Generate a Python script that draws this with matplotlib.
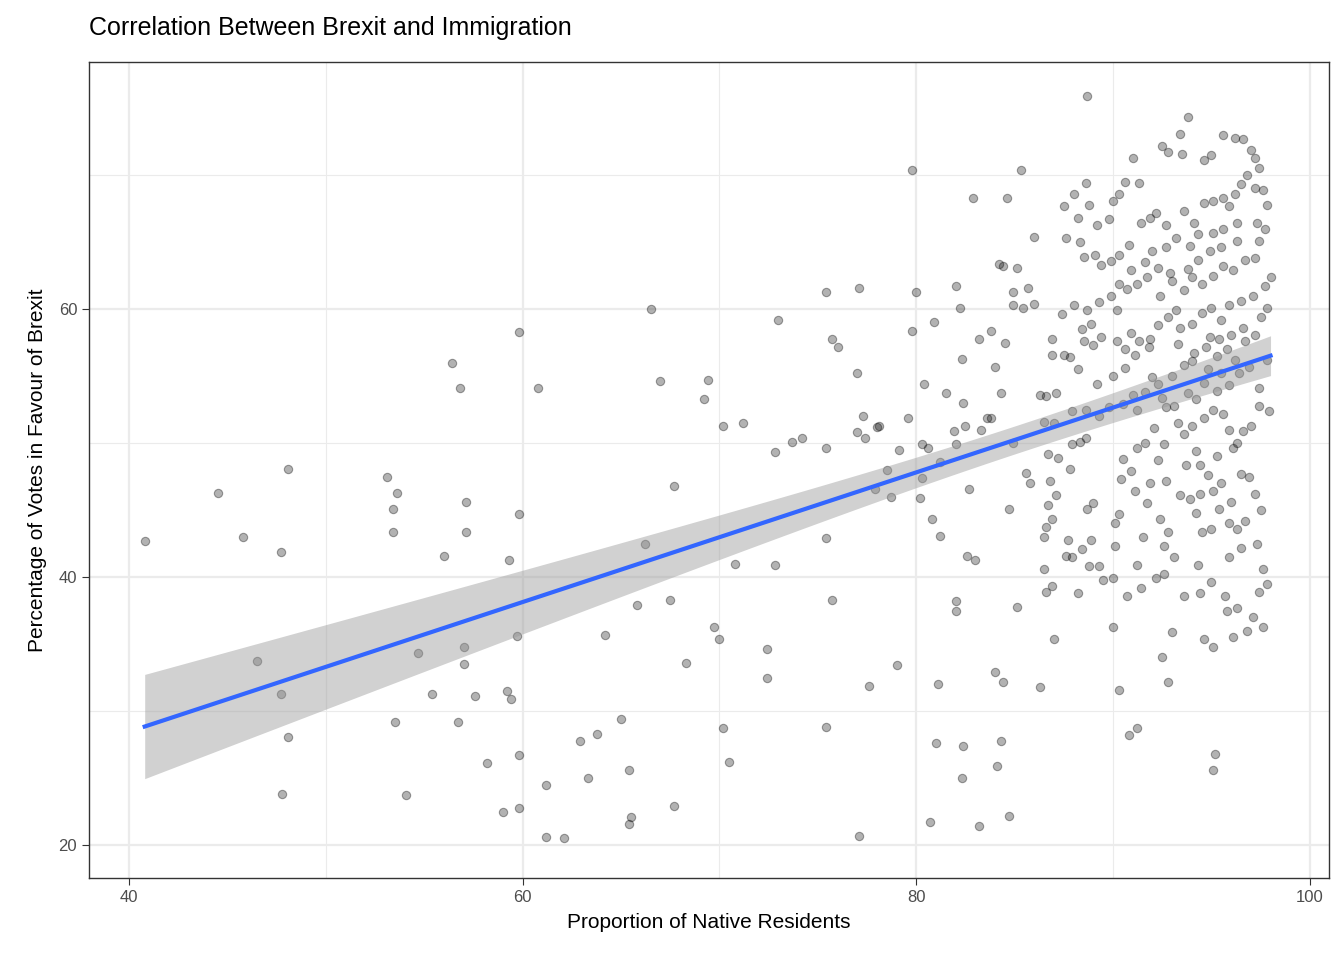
import numpy as np
import matplotlib.pyplot as plt

plt.rcParams['font.family'] = ['Liberation Sans', 'DejaVu Sans']

title = "Correlation Between Brexit and Immigration"
x_label = "Proportion of Native Residents"
y_label = "Percentage of Votes in Favour of Brexit"

# sparse part (native share below ~87%)
sparse = [
    (40.8, 42.7), (44.5, 46.3), (45.8, 43.0), (46.5, 33.7), (47.7, 41.9), (47.7, 31.3), (47.8, 23.8),
    (48.1, 48.1), (48.1, 28.1), (53.1, 47.5), (53.4, 45.1), (53.6, 46.3), (53.4, 43.4), (53.5, 29.2),
    (54.1, 23.7), (54.7, 34.3), (55.4, 31.3), (56.0, 41.6), (56.4, 56.0), (56.8, 54.1), (56.7, 29.2),
    (57.0, 34.8), (57.1, 45.6), (57.1, 43.4), (57.0, 33.5), (57.6, 31.1), (58.2, 26.1), (59.0, 22.5),
    (59.2, 31.5), (59.3, 41.3), (59.4, 30.9), (59.8, 58.3), (59.8, 44.7), (59.7, 35.6), (59.8, 26.7),
    (59.8, 22.8), (60.8, 54.1), (61.2, 24.5), (61.2, 20.6), (62.1, 20.5), (62.9, 27.8), (63.3, 25.0),
    (63.8, 28.3), (64.2, 35.7), (65.0, 29.4), (65.4, 25.6), (65.4, 21.6), (65.5, 22.1), (65.8, 37.9),
    (66.2, 42.5), (66.5, 60.0), (67.0, 54.6), (67.5, 38.3), (67.7, 46.8), (67.7, 22.9), (68.3, 33.6),
    (69.2, 53.3), (69.4, 54.7), (69.7, 36.3), (70.0, 35.4), (70.2, 28.7), (70.2, 51.3), (70.5, 26.2),
    (70.8, 41.0), (71.2, 51.5), (72.4, 34.6), (72.4, 32.5), (72.8, 49.3), (72.8, 40.9), (73.0, 59.2),
    (73.7, 50.1), (74.2, 50.4), (75.4, 42.9), (75.4, 61.3), (75.4, 28.8), (75.4, 49.6), (75.7, 57.8),
    (75.7, 38.3), (76.0, 57.2), (77.0, 50.8), (77.0, 55.2), (77.1, 61.6), (77.1, 20.7), (77.3, 52.0),
    (77.4, 50.4), (77.6, 31.9), (77.9, 46.6), (78.0, 51.2), (78.1, 51.3), (78.5, 48.0), (78.7, 46.0),
    (79.0, 33.4), (79.1, 49.5), (79.6, 51.9), (79.8, 70.4), (79.8, 58.4), (80.0, 61.3), (80.3, 49.9),
    (80.2, 45.9), (80.3, 47.4), (80.4, 54.4), (80.6, 49.6), (80.7, 21.7), (80.8, 44.3), (80.9, 59.0),
    (81.0, 27.6), (81.1, 32.0), (81.2, 43.1), (81.2, 48.6), (81.5, 53.7), (81.9, 50.9), (82.0, 49.9),
    (82.0, 38.2), (82.0, 37.5), (82.0, 61.7), (82.2, 60.1), (82.3, 56.3), (82.3, 25.0), (82.4, 27.4),
    (82.4, 53.0), (82.5, 51.3), (82.6, 41.6), (82.7, 46.6), (82.9, 68.3), (83.0, 41.3), (83.2, 21.4),
    (83.2, 57.8), (83.3, 51.0), (83.6, 51.9), (83.8, 51.9), (83.8, 58.4), (84.0, 55.7), (84.0, 32.9),
    (84.1, 25.9), (84.2, 63.4), (84.3, 27.8), (84.4, 63.2), (84.4, 32.2), (84.3, 53.7), (84.5, 57.5),
    (84.6, 68.3), (84.7, 22.2), (84.7, 45.1), (84.9, 60.3), (84.9, 61.3), (84.9, 50.0), (85.1, 37.8),
    (85.1, 63.1), (85.3, 70.4), (85.4, 60.1), (85.6, 47.8), (85.7, 61.6), (85.8, 47.0), (86.0, 60.4),
    (86.0, 65.4), (86.3, 31.8), (86.3, 53.6), (86.5, 40.6),
]

# dense cluster (native share 86.5-98%)
dense = [
    (88.7, 75.9), (93.8, 74.3), (93.4, 73.1), (92.5, 72.2), (92.8, 71.7), (93.5, 71.6), (94.6, 71.1),
    (95.0, 71.5), (95.6, 73.0), (96.2, 72.8), (96.6, 72.7), (97.0, 71.9), (97.2, 71.3), (97.4, 70.5),
    (91.0, 71.3), (90.6, 69.5), (90.3, 68.6), (90.0, 68.1), (91.3, 69.4), (88.6, 69.4), (88.0, 68.6),
    (87.5, 67.7), (88.8, 67.8), (89.2, 66.3), (88.2, 66.8), (89.8, 66.7), (87.6, 65.3), (88.3, 65.0),
    (88.5, 63.9), (89.1, 64.0), (89.4, 63.3), (89.9, 63.6), (90.3, 64.0), (90.8, 64.8), (91.4, 66.4),
    (91.9, 66.8), (92.2, 67.2), (92.7, 66.3), (93.6, 67.3), (94.1, 66.4), (94.6, 67.9), (95.1, 68.1),
    (95.6, 68.3), (95.9, 67.7), (96.2, 68.6), (96.5, 69.3), (96.8, 70.0), (97.2, 69.0), (97.6, 68.9),
    (97.8, 67.8), (97.3, 66.4), (97.7, 66.0), (96.3, 66.4), (95.6, 66.0), (95.1, 65.7), (94.3, 65.6),
    (93.9, 64.7), (93.2, 65.3), (92.7, 64.6), (92.0, 64.3), (91.6, 63.5), (90.9, 62.9), (90.3, 61.9),
    (89.9, 61.0), (89.3, 60.5), (88.7, 59.9), (88.0, 60.3), (87.4, 59.6), (88.4, 58.5), (88.9, 58.9),
    (89.4, 57.9), (89.0, 57.3), (88.5, 57.6), (88.2, 55.5), (87.8, 56.4), (87.5, 56.6), (86.9, 56.6),
    (86.9, 57.8), (87.1, 53.7), (86.6, 53.5), (86.5, 51.6), (87.0, 51.5), (87.9, 52.4), (88.6, 52.5),
    (89.2, 54.4), (90.0, 55.0), (90.6, 55.6), (91.1, 56.6), (91.3, 57.6), (91.9, 57.8), (92.3, 58.8),
    (92.8, 59.4), (93.2, 59.9), (93.4, 58.6), (94.0, 58.9), (94.5, 59.7), (95.0, 60.1), (95.5, 59.2),
    (95.9, 60.3), (96.5, 60.6), (97.1, 61.0), (97.7, 61.7), (98.0, 62.4), (97.8, 60.1), (97.5, 59.4),
    (96.6, 58.6), (96.0, 58.1), (95.4, 57.8), (94.7, 57.2), (94.1, 56.7), (93.6, 55.8), (93.0, 55.0),
    (92.3, 54.4), (91.6, 53.8), (91.0, 53.6), (90.5, 52.9), (89.8, 52.7), (89.3, 52.0), (88.6, 50.4),
    (87.9, 49.9), (87.2, 48.9), (86.7, 49.2), (86.8, 47.2), (86.7, 45.4), (86.6, 43.7), (86.5, 43.0),
    (86.9, 44.3), (87.1, 46.1), (87.7, 42.8), (87.6, 41.6), (87.9, 41.5), (86.9, 39.3), (86.6, 38.9),
    (87.0, 35.4), (87.8, 48.1), (88.3, 50.1), (89.0, 45.5), (88.7, 45.1), (88.9, 42.8), (88.4, 42.1),
    (88.8, 40.8), (89.3, 40.8), (88.2, 38.8), (89.5, 39.8), (90.0, 39.9), (90.1, 42.3), (90.1, 44.0),
    (90.3, 44.7), (90.4, 47.3), (90.5, 48.8), (90.0, 36.3), (90.3, 31.6), (90.8, 28.2), (91.2, 28.7),
    (90.7, 38.6), (91.2, 40.9), (91.4, 39.2), (91.5, 43.0), (91.1, 46.4), (91.7, 45.5), (91.9, 47.0),
    (92.3, 48.7), (92.6, 49.9), (92.1, 51.1), (92.7, 52.7), (93.3, 51.5), (93.6, 50.7), (94.0, 51.3),
    (94.2, 49.4), (94.4, 48.4), (94.8, 47.6), (95.1, 46.4), (95.4, 45.1), (95.9, 44.0), (96.3, 43.6),
    (96.7, 44.2), (96.9, 47.5), (97.2, 46.2), (97.5, 45.0), (97.3, 42.5), (97.6, 40.6), (97.8, 39.5),
    (97.4, 38.9), (97.1, 37.0), (96.8, 36.0), (97.6, 36.3), (96.3, 37.7), (95.8, 37.5), (95.7, 38.6),
    (95.0, 39.6), (94.4, 38.8), (94.3, 40.9), (93.6, 38.6), (93.1, 41.5), (92.8, 43.4), (92.4, 44.3),
    (92.6, 42.3), (92.2, 39.9), (92.6, 40.2), (93.0, 35.9), (92.5, 34.0), (92.8, 32.2), (94.6, 35.4),
    (95.1, 34.8), (95.2, 26.8), (95.1, 25.6), (96.1, 35.5), (96.5, 42.2), (95.9, 41.5), (96.5, 47.7),
    (96.1, 49.6), (96.6, 50.9), (97.0, 51.3), (97.4, 52.8), (97.9, 52.4), (97.4, 54.1), (97.8, 56.2),
    (96.9, 55.7), (96.4, 55.2), (95.9, 54.3), (95.3, 53.9), (94.6, 54.5), (94.2, 53.3), (93.8, 53.7),
    (93.1, 52.8), (92.5, 53.4), (92.0, 54.9), (91.6, 50.0), (91.2, 49.6), (90.9, 47.9), (91.2, 52.5),
    (91.8, 57.2), (92.4, 61.0), (93.0, 62.1), (93.6, 61.4), (94.0, 62.4), (94.5, 61.9), (95.1, 62.5),
    (95.6, 63.2), (96.1, 62.9), (96.7, 63.7), (97.2, 63.8), (97.4, 65.1), (96.3, 65.1), (95.5, 64.6),
    (94.9, 64.3), (94.3, 63.7), (93.8, 63.0), (92.9, 62.7), (92.3, 63.1), (91.7, 62.4), (91.2, 61.9),
    (90.7, 61.5), (90.2, 59.9), (90.2, 57.6), (90.6, 57.0), (90.9, 58.2), (94.9, 57.9), (95.3, 56.5),
    (95.8, 57.0), (96.2, 56.2), (96.7, 57.6), (97.2, 58.1), (93.3, 57.4), (94.0, 56.1), (94.8, 55.5),
    (95.5, 55.2), (95.6, 52.2), (95.1, 52.5), (94.6, 51.9), (95.9, 51.0), (96.3, 50.0), (93.9, 45.8),
    (94.2, 44.8), (94.5, 43.4), (95.0, 43.6), (95.5, 47.0), (96.0, 45.6), (94.4, 46.2), (95.3, 49.0),
    (93.4, 46.1), (92.7, 47.2), (93.7, 48.4),
]

pts = np.array(sparse + dense)
native = pts[:, 0]
leave = pts[:, 1]

# linear fit with 95% confidence band (like geom_smooth(method="lm"))
n = len(native)
slope, intercept = np.polyfit(native, leave, 1)
resid = leave - (slope * native + intercept)
s = np.sqrt(np.sum(resid ** 2) / (n - 2))
xm = native.mean()
sxx = np.sum((native - xm) ** 2)
xs = np.linspace(native.min(), native.max(), 100)
ys = slope * xs + intercept
se = s * np.sqrt(1 / n + (xs - xm) ** 2 / sxx)
t = 1.966

fig = plt.figure(figsize=(13.44, 9.6), dpi=100)
ax = fig.add_axes([89 / 1344, 1 - 878 / 960, (1329 - 89) / 1344, (878 - 62) / 960])

ax.scatter(native, leave, s=36, color=(0, 0, 0, 0.3), edgecolors=(0, 0, 0, 0.35), linewidths=0.8, zorder=3)
ax.fill_between(xs, ys - t * se, ys + t * se, color="#999999", alpha=0.45, linewidth=0, zorder=4)
ax.plot(xs, ys, color="#3366FF", linewidth=3, zorder=5)

ax.set_xlim(37.97, 100.97)
ax.set_ylim(17.54, 78.44)
ax.set_xticks([40, 60, 80, 100])
ax.set_yticks([20, 40, 60])
ax.set_xticks([50, 70, 90], minor=True)
ax.set_yticks([30, 50, 70], minor=True)
ax.grid(which="major", color="#EBEBEB", linewidth=1.6)
ax.grid(which="minor", color="#EBEBEB", linewidth=0.8)
ax.set_axisbelow(True)
ax.tick_params(which="major", length=5, color="#333333", labelcolor="#4D4D4D", labelsize=12)
ax.tick_params(which="minor", length=0)
for sp in ax.spines.values():
    sp.set_color("#333333")
    sp.set_linewidth(1.0)

ax.set_xlabel(x_label, fontsize=15, labelpad=6)
ax.set_ylabel(y_label, fontsize=15, labelpad=8)
fig.text(89 / 1344, 1 - 28 / 960, title, fontsize=18, va="center", ha="left")

fig.savefig("out.png", dpi=100)
